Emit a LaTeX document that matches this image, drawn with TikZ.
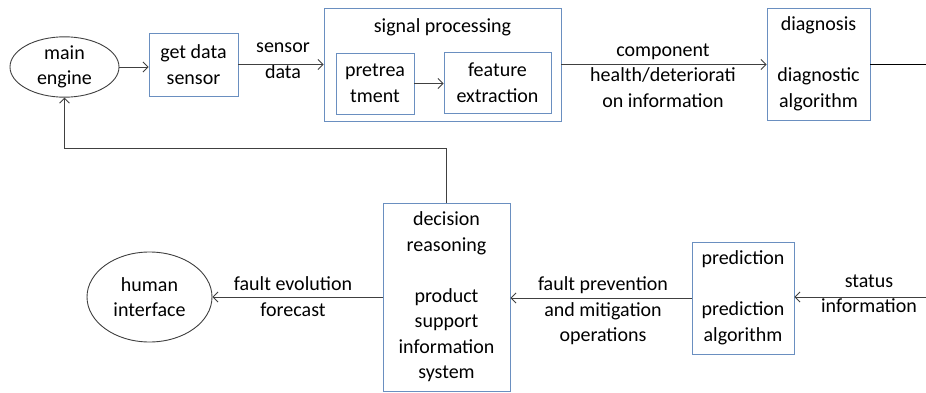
\documentclass[tikz,border=0pt]{standalone}
\usepackage{fontspec}
\setmainfont{Carlito}
\usetikzlibrary{arrows.meta,shapes.geometric}
\definecolor{boxblue}{HTML}{6A8FC0}
\definecolor{linegray}{HTML}{404040}
\begin{document}
\begin{tikzpicture}[x=1pt,y=-1pt,
  every node/.style={font=\fontsize{20}{25.5}\selectfont, text=black, inner sep=0pt, align=center},
  blk/.style={draw=boxblue, line width=0.9pt},
  ell/.style={ellipse, draw=linegray, line width=0.9pt},
  arr/.style={draw=linegray, line width=0.8pt, -{Straight Barb[length=5pt,width=10pt]}},
  plain/.style={draw=black, line width=0.8pt}]
\useasboundingbox (0,0) rectangle (926,393);

% upper row: acquisition, processing, diagnosis
\node[ell, minimum width=109pt, minimum height=60pt] (engine) at (64.5,67) {main\\engine};
\node[blk, minimum width=89pt, minimum height=63pt] (sensor) at (193.5,64.5) {get data\\sensor};
\node[blk, minimum width=237pt, minimum height=113pt] (sigproc) at (442.5,64.5) {};
\node (sigtitle) at (442.5,27) {signal processing};
\node[blk, minimum width=78pt, minimum height=61pt] (pre) at (375,83.5) {pretrea\\tment};
\node[blk, minimum width=107pt, minimum height=61pt] (feat) at (497.5,82.5) {feature\\extraction};
\node[blk, minimum width=103pt, minimum height=112pt] (diag) at (818.5,64) {diagnosis\\\mbox{}\\diagnostic\\algorithm};
\coordinate (diagout) at (926,62);

% lower row: prediction, decision, interface
\node[blk, minimum width=127pt, minimum height=188pt] (decision) at (446.5,297) {decision\\reasoning\\\mbox{}\\product\\support\\information\\system};
\node[ell, minimum width=125pt, minimum height=90pt] (human) at (149.5,297) {human\\interface};
\node[blk, minimum width=102pt, minimum height=112pt] (pred) at (743,298) {prediction\\\mbox{}\\prediction\\algorithm};
\coordinate (statusin) at (926,297);
\coordinate (fbcorner) at (446.5,148);

% connector labels
\node (lblsensor) at (283,60.5) {sensor\\data};
\node (lblhealth) at (663,75.5) {component\\health/deteriorati\\on information};
\node (lblforecast) at (293,296.5) {fault evolution\\forecast};
\node (lblprevent) at (603,311) {fault prevention\\and mitigation\\operations};
\node (lblstatus) at (869,293.5) {status\\information};

% connectors
\draw[arr] (engine.east) -- (engine.east -| sensor.west);
\draw[arr] (sensor.east) -- (sensor.east -| sigproc.west);
\draw[arr] (pre.east) -- (pre.east -| feat.west);
\draw[arr] (sigproc.east) -- (sigproc.east -| diag.west);
\draw[plain] (diag.east) -- (diag.east -| diagout);
\draw[arr] (statusin) -- (statusin -| pred.east);
\draw[arr] (pred.west) -- (pred.west -| decision.east);
\draw[arr] (decision.west) -- (decision.west -| human.east);
\draw[arr] (decision.north) -- (fbcorner) -| (engine.south);
\end{tikzpicture}
\end{document}
